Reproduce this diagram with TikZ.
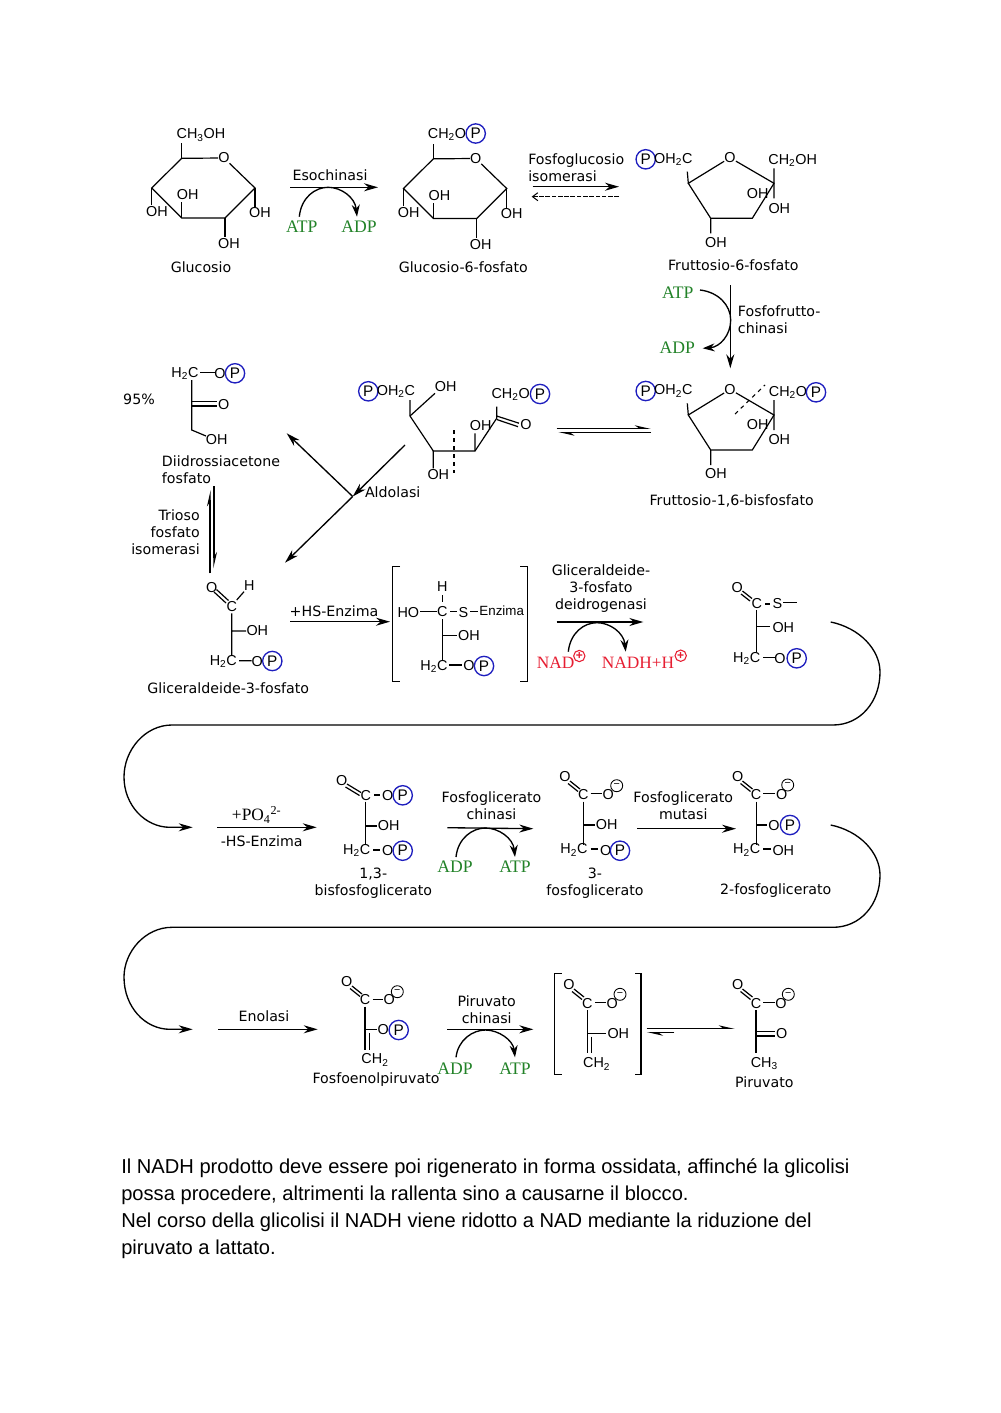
\documentclass[tikz,border=0pt]{standalone}
\usepackage{fontspec}
\usetikzlibrary{arrows.meta}
\newfontfamily\chemfont{Liberation Sans}
\newfontfamily\lblfont{DejaVu Sans}
\newfontfamily\serfont{Liberation Serif}
\definecolor{cofgreen}{RGB}{34,130,40}
\definecolor{cofred}{RGB}{230,30,50}
\definecolor{pblue}{RGB}{30,30,190}
\tikzset{
 atm/.style={inner sep=0pt,font=\chemfont\fontsize{10.8}{12}\selectfont},
 smallatm/.style={inner sep=0pt,font=\chemfont\fontsize{10}{10}\selectfont},
 lbl/.style={inner sep=0pt,align=center,font=\lblfont\fontsize{10.65}{12.75}\selectfont},
 lbll/.style={lbl,align=left,anchor=west},
 lblr/.style={lbl,align=right,anchor=east},
 grn/.style={inner sep=0pt,text=cofgreen,font=\serfont\fontsize{13.2}{14}\selectfont},
 redt/.style={inner sep=0pt,text=cofred,font=\serfont\fontsize{13}{14}\selectfont},
 pcirc/.style={circle,draw=pblue,line width=1pt,minimum size=14.5pt,inner sep=0pt,font=\chemfont\fontsize{11.5}{12}\selectfont},
 mcirc/.style={circle,draw=black,line width=0.65pt,minimum size=9pt,inner sep=0pt,font=\chemfont\fontsize{8}{8}\selectfont},
 rcirc/.style={circle,draw=cofred,line width=0.8pt,minimum size=8.5pt,inner sep=0pt,text=cofred,font=\chemfont\bfseries\fontsize{9}{9}\selectfont},
 bond/.style={line width=0.9pt,black},
 arr/.style={line width=1pt,-{Stealth[length=10.5pt,width=6pt]}},
 cof/.style={line width=1pt,-{Stealth[length=9pt,width=6pt]}},
 harpA/.style={line width=1pt,-{Stealth[harpoon,length=10pt,width=4.5pt]}},
 dasharr/.style={line width=0.75pt,dash pattern=on 3.5pt off 1.2pt,-{Straight Barb[length=4pt,width=6pt]}},
 brk/.style={line width=1pt},
 cutl/.style={line width=0.8pt,dash pattern=on 3pt off 3pt},
}
\newcommand\rxn[4]{\coordinate (#1a) at (#2); \coordinate (#1b) at (#3); \draw[#4] (#1a) -- (#1b);}
\newcommand\cofac[5]{%
 \pgfmathsetmacro\cofM{(#2+#3)/2}%
 \coordinate (#1s) at (#2,#5); \coordinate (#1t) at (\cofM,#4); \coordinate (#1e) at (#3,#5);
 \draw[cof] (#1s) .. controls (#2+2,#4+10) and (\cofM-13,#4) .. (#1t) .. controls (\cofM+13,#4) and (#3-2,#4+10) .. (#1e);}
% pyranose ring
\newcommand\pyranring{%
 \node[atm] (ro) at (224,158) {O};
 \draw[bond] (ro) -- (181.7,158.3) -- (151.7,188) -- (181.7,218) -- (225,218) -- (255,188) -- (ro);
 \draw[bond] (181.7,158.3) -- (181.7,143) (151.7,188) -- (151.7,205) (181.7,218) -- (181.7,202) (255,188) -- (255,207) (225,218) -- (225,237);
 \node[atm] (oh1) at (157,212) {OH};
 \node[atm] (oh2) at (187.7,195) {OH};
 \node[atm] (oh3) at (260,213) {OH};
 \node[atm] (oh4) at (229,244) {OH};
}
% furanose ring
\newcommand\furanring{%
 \node[atm] (ro) at (730,157.7) {O};
 \draw[bond] (ro) -- (688.3,183.3) -- (710.7,218.3) -- (752.3,218.3) -- (774,183.3) -- (ro);
 \draw[bond] (688.3,183.3) -- (687.3,171.7) (774,168.3) -- (774,198.3) (710.7,218.3) -- (710.7,233.3);
 \node[atm] (oh1) at (757.7,193.3) {OH};
 \node[atm] (oh2) at (779.3,208.3) {OH};
 \node[atm] (oh3) at (716,242.3) {OH};
 \node[pcirc] (pl) at (645.7,159.3) {P};
 \node[atm] (ohc) at (673.3,159.3) {OH\textsubscript{2}C};
}
\begin{document}
\begin{tikzpicture}[x=0.75pt,y=-0.75pt]
\useasboundingbox (0,0) rectangle (1000,1413);
% ---------- Row 1
\begin{scope}[name prefix=glc-]
 \pyranring
 \node[atm] (top) at (201,135) {CH\textsubscript{3}OH};
 \node[lbl] (name) at (201,267) {Glucosio};
\end{scope}
\begin{scope}[shift={(251.7,0.5)},name prefix=g6p-]
 \pyranring
 \node[atm] (top) at (195.3,134) {CH\textsubscript{2}O};
 \node[pcirc] (p) at (224,133) {P};
 \node[lbl] (name) at (211.6,266.5) {Glucosio-6-fosfato};
\end{scope}
\node[lbl] (eso) at (330,175.7) {Esochinasi};
\rxn{e}{290,187.3}{378,187.3}{arr}
\cofac{ec}{299.3}{357}{187.3}{216.7}
\node[grn] (atp1) at (301.7,226.7) {ATP};
\node[grn] (adp1) at (359,226.7) {ADP};
\node[lbll] (fgi) at (528,168) {Fosfoglucosio\\isomerasi};
\rxn{f}{532.7,186.7}{619,186.7}{arr}
\rxn{fd}{619,196.7}{531.7,196.7}{dasharr}
\begin{scope}[name prefix=f6p-]
 \furanring
 \node[atm] (top) at (792.7,160.7) {CH\textsubscript{2}OH};
 \node[lbl] (name) at (733.3,265) {Fruttosio-6-fosfato};
\end{scope}
\rxn{k}{730.3,285}{730.3,368.3}{arr}
\node[lbll] (pfk) at (737.7,320) {Fosfofrutto-\\chinasi};
\node[grn] (atp2) at (677.7,292.7) {ATP};
\node[grn] (adp2) at (677.3,347.7) {ADP};
\coordinate (kc1) at (700,290); \coordinate (kc2) at (730.7,320); \coordinate (kc3) at (702.7,348.3);
\draw[cof] (kc1) .. controls (718,292) and (730.7,305) .. (kc2) .. controls (730.7,335) and (720,347) .. (kc3);
% ---------- Row 2: F-1,6-BP
\begin{scope}[shift={(0,231.7)},name prefix=fbp-]
 \furanring
 \node[atm] (top) at (788,160.6) {CH\textsubscript{2}O};
 \node[pcirc] (p) at (816,160.6) {P};
 \coordinate (c1) at (735,182.3); \coordinate (c2) at (765,153.3);
 \draw[cutl] (c1) -- (c2);
\end{scope}
\node[lbl] (fbpname) at (731.7,500.7) {Fruttosio-1,6-bisfosfato};
\rxn{eqa}{556.7,428.3}{651,428.3}{harpA}
\rxn{eqb}{651,432.7}{558.3,432.7}{harpA}
% open chain
\node[pcirc] (opP) at (368.3,391.3) {P};
\node[atm] (opc) at (396,391.3) {OH\textsubscript{2}C};
\node[atm] (opoh1) at (445.7,386.7) {OH};
\node[atm] (opoh2) at (438.3,475) {OH};
\node[atm] (opoh3) at (480.7,426) {OH};
\node[atm] (opch) at (510.7,394.3) {CH\textsubscript{2}O};
\node[pcirc] (opP2) at (540,394) {P};
\node[atm] (opo) at (526,425) {O};
\draw[bond] (410,400) -- (410,416) -- (433.3,451) -- (475,451) -- (496.7,418.3) -- (496.7,406.7);
\draw[bond] (410,416) -- (435,393.3) (433.3,451) -- (433.3,468.3) (475,451) -- (475,433.3);
\draw[bond] (496.7,416) -- (519,423.2) (496.7,419.5) -- (518,426.7);
\draw[cutl] (454,430) -- (454,473.3);
% aldolase arrows
\coordinate (al1) at (405,445); \coordinate (alj) at (352.7,496.5); \coordinate (alg) at (285,562.7); \coordinate (ald) at (286.7,433.3);
\draw[arr] (al1) -- (alj);
\draw[arr] (alj) -- (alg);
\draw[arr] (alj) -- (ald);
\node[lbl] (aldn) at (392.7,492.7) {Aldolasi};
% DHAP
\node[lbl] (pct) at (139,399) {95\%};
\node[atm] (dh2c) at (185,373.3) {H\textsubscript{2}C};
\node[atm] (do) at (220,373.3) {O};
\node[pcirc] (dp) at (235,373.3) {P};
\node[atm] (dco) at (223.7,404.3) {O};
\node[atm] (doh) at (216.7,439.3) {OH};
\draw[bond] (200,372.7) -- (215,372.7);
\draw[bond] (191.7,380) -- (191.7,430) -- (206,436);
\draw[bond] (191.7,401.7) -- (216.7,401.7) (191.7,405.9) -- (216.7,405.9);
\node[lbll] (dhn) at (161.7,469.5) {Diidrossiacetone\\fosfato};
\node[lblr] (tpi) at (200,532) {Trioso\\fosfato\\isomerasi};
\rxn{ti1}{214,486}{214,568.3}{harpA}
\rxn{ti2}{210,573.3}{210,490}{harpA}
% GAP
\node[atm] (go) at (211.7,587.3) {O};
\node[atm] (gc) at (231.7,606.7) {C};
\node[atm] (gh) at (249.3,585.7) {H};
\node[atm] (goh) at (257.3,631) {OH};
\node[atm] (gh2c) at (223.3,661.7) {H\textsubscript{2}C};
\node[atm] (go2) at (257.3,661.7) {O};
\node[pcirc] (gp) at (272.3,661) {P};
\draw[bond] (216.5,589.5) -- (228.5,600.5) (214,592) -- (226,603);
\draw[bond] (236.7,600) -- (244,591.7) (231.7,613.3) -- (231.7,655) (231.7,631) -- (246,631) (239,660.7) -- (251.7,660.7);
\node[lbl] (gapn) at (228.3,687.7) {Gliceraldeide-3-fosfato};
\node[lbl] (hse) at (334,610.7) {+HS-Enzima};
\rxn{hs}{290,621.7}{390,621.7}{arr}
% bracket 1
\draw[brk] (400,566.7) -- (392.7,566.7) -- (392.7,681.7) -- (400,681.7);
\draw[brk] (520,566.7) -- (527.3,566.7) -- (527.3,681.7) -- (520,681.7);
\node[atm] (ih) at (442.3,586.7) {H};
\node[atm] (ic) at (442.3,611.7) {C};
\node[atm] (iho) at (408.3,612.7) {HO};
\node[atm] (is) at (463.3,612.3) {S};
\node[smallatm] (ienz) at (501.7,611) {Enzima};
\node[atm] (ioh) at (469,636) {OH};
\node[atm] (ih2c) at (434,666.7) {H\textsubscript{2}C};
\node[atm] (io) at (469,666) {O};
\node[pcirc] (ip) at (484,666) {P};
\draw[bond] (442.7,595) -- (442.7,602.3) (420,611.7) -- (436.7,611.7) (450,611.7) -- (456.7,611.7) (470,611.7) -- (477.7,611.7);
\draw[bond] (442.7,619.3) -- (442.7,661) (442.7,635.7) -- (456.7,635.7) (449.3,665) -- (461.7,665);
\node[lbl] (gapdh) at (601,589) {Gliceraldeide-\\3-fosfato\\deidrogenasi};
\rxn{gd}{556.7,622}{643.3,622}{arr}
\cofac{gc}{568.3}{625.7}{622.7}{651.7}
\node[redt] (nad) at (555.7,662.3) {NAD};
\node[rcirc] (nadp) at (579.3,656) {+};
\node[redt] (nadh) at (638,662.3) {NADH+H};
\node[rcirc] (nadhp) at (680.7,655.7) {+};
% thioester
\node[atm] (to) at (737.3,587.3) {O};
\node[atm] (tc) at (756.7,604) {C};
\node[atm] (ts) at (777.3,604) {S};
\node[atm] (toh) at (783.3,627.3) {OH};
\node[atm] (th2c) at (746.7,658.3) {H\textsubscript{2}C};
\node[atm] (to2) at (780,658.3) {O};
\node[pcirc] (tp) at (796.7,658.3) {P};
\draw[bond] (742.5,591) -- (752,598.5) (741,594) -- (750,601);
\draw[bond] (765,604) -- (770,604) (783.3,602.7) -- (796.7,602.7) (756.7,610) -- (756.7,651.7) (756.7,626.7) -- (770,626.7) (763.3,657.3) -- (775,657.3);
% connector 1
\coordinate (w1s) at (830.7,622); \coordinate (w1a) at (880,672); \coordinate (w1b) at (833,725); \coordinate (w1c) at (172,725); \coordinate (w1d) at (124,777); \coordinate (w1e) at (192.7,827.3);
\draw[arr] (w1s) .. controls (860,628) and (880,650) .. (w1a) .. controls (880,702) and (860,725) .. (w1b) -- (w1c) .. controls (145,725) and (124,750) .. (w1d) .. controls (124,805) and (145,827.3) .. (170,827.3) -- (w1e);
% ---------- Row 3
\node[inner sep=0pt,font=\serfont\fontsize{13}{14}\selectfont] (po4) at (256.7,815) {+PO\textsubscript{4}\textsuperscript{2-}};
\rxn{po}{217.3,827.3}{316.7,827.3}{arr}
\node[lbl] (hse2) at (261.7,841) {-HS-Enzima};
% 1,3-BPG
\node[atm] (bo) at (341.7,780.7) {O};
\node[atm] (bc) at (365.7,796) {C};
\node[atm] (bo2) at (387.7,795.3) {O};
\node[pcirc] (bp) at (402.7,795.3) {P};
\node[atm] (boh) at (388.7,826) {OH};
\node[atm] (bh2c) at (356.7,850.7) {H\textsubscript{2}C};
\node[atm] (bo3) at (387.7,851) {O};
\node[pcirc] (bp2) at (402.7,850.7) {P};
\draw[bond] (347,784) -- (361,792.5) (345.5,787) -- (359.5,795.5);
\draw[bond] (374,795) -- (380,795) (365.7,801.7) -- (365.7,845) (365.7,826) -- (377.3,826) (373.3,850) -- (380,850);
\node[lbl] (bn) at (373.3,883.3) {1,3-\\bisfosfoglicerato};
\node[lbl] (pgk) at (491.5,805.5) {Fosfoglicerato\\chinasi};
\rxn{pk}{447.3,827.7}{533.3,828.7}{arr}
\cofac{pkc}{456}{515}{828}{857}
\node[grn] (adp3) at (455,866.7) {ADP};
\node[grn] (atp3) at (515,866.7) {ATP};
% 3PG
\node[atm] (po) at (565,776.7) {O};
\node[atm] (pc) at (583.3,795) {C};
\node[atm] (po2) at (608.3,794.3) {O};
\node[mcirc] (pm) at (616.7,785.7) {\textminus};
\node[atm] (poh) at (606.7,825) {OH};
\node[atm] (ph2c) at (574,850) {H\textsubscript{2}C};
\node[atm] (po3) at (605.7,850.7) {O};
\node[pcirc] (pp) at (620,850.7) {P};
\draw[bond] (570,781) -- (580,789) (568,783.5) -- (578,791.5);
\draw[bond] (590.7,793.3) -- (601.7,793.3) (583.3,801.7) -- (583.3,845) (583.3,825) -- (595,825) (590.7,849) -- (598.3,849);
\node[lbl] (pn) at (595,883) {3-\\fosfoglicerato};
\node[lbl] (pgm) at (683.3,806) {Fosfoglicerato\\mutasi};
\rxn{pm}{637.3,828.7}{736,828.7}{arr}
% 2PG
\node[atm] (qo) at (737.7,776.7) {O};
\node[atm] (qc) at (756,795) {C};
\node[atm] (qo2) at (781.7,794.3) {O};
\node[mcirc] (qm) at (787.7,785) {\textminus};
\node[atm] (qo3) at (774,825.7) {O};
\node[pcirc] (qp) at (790,825) {P};
\node[atm] (qh2c) at (746.7,850) {H\textsubscript{2}C};
\node[atm] (qoh) at (783.3,850.7) {OH};
\draw[bond] (742.5,781) -- (752.5,789) (740.5,783.5) -- (750.5,791.5);
\draw[bond] (763.3,793.3) -- (775,793.3) (756.7,801.7) -- (756.7,845) (756.7,825) -- (767,825) (763.3,849) -- (770.7,849);
\node[lbl] (qn) at (775.7,890.7) {2-fosfoglicerato};
% connector 2
\coordinate (w2s) at (830.7,825); \coordinate (w2a) at (880,875); \coordinate (w2b) at (833,927.3); \coordinate (w2c) at (172,927.3); \coordinate (w2d) at (124,977); \coordinate (w2e) at (192.7,1029.3);
\draw[arr] (w2s) .. controls (860,831) and (880,853) .. (w2a) .. controls (880,905) and (860,927.3) .. (w2b) -- (w2c) .. controls (145,927.3) and (124,952) .. (w2d) .. controls (124,1007) and (145,1029.3) .. (170,1029.3) -- (w2e);
% ---------- Row 4
\node[lbl] (eno) at (264,1016) {Enolasi};
\rxn{en}{218.3,1029.3}{317.7,1029.3}{arr}
% PEP
\node[atm] (eo) at (346.7,981.7) {O};
\node[atm] (ec) at (365,1000) {C};
\node[atm] (eo2) at (389.3,1000) {O};
\node[mcirc] (em) at (397.3,991.7) {\textminus};
\node[atm] (eo3) at (383.3,1030) {O};
\node[pcirc] (ep) at (398.7,1030) {P};
\node[atm] (ech2) at (375,1060) {CH\textsubscript{2}};
\draw[bond] (352,986) -- (362,994) (350,988.5) -- (360,996.5);
\draw[bond] (372.7,999.3) -- (383.3,999.3) (365,1006.7) -- (365,1050) (369.3,1033.3) -- (369.3,1050) (365,1029.3) -- (376.7,1029.3);
\node[lbl] (pepn) at (376,1080) {Fosfoenolpiruvato};
\node[lbl] (pyk) at (486.7,1010) {Piruvato\\chinasi};
\rxn{py}{447.3,1029.3}{533.3,1029.3}{arr}
\cofac{pyc}{456}{515}{1030}{1057.3}
\node[grn] (adp4) at (455,1068.3) {ADP};
\node[grn] (atp4) at (515,1068.3) {ATP};
% bracket 2
\draw[brk] (561.7,973.3) -- (554.3,973.3) -- (554.3,1074.3) -- (561.7,1074.3);
\draw[brk] (635,973.3) -- (641,973.3) -- (641,1074.3) -- (635,1074.3);
\node[atm] (vo) at (569,985) {O};
\node[atm] (vc) at (587.3,1003.3) {C};
\node[atm] (vo2) at (612.3,1003.3) {O};
\node[mcirc] (vm) at (620,994.3) {\textminus};
\node[atm] (voh) at (618.3,1034) {OH};
\node[atm] (vch2) at (596.7,1064) {CH\textsubscript{2}};
\draw[bond] (574,989) -- (584,997) (572,991.5) -- (582,999.5);
\draw[bond] (595,1002.7) -- (606,1002.7) (587.7,1010) -- (587.7,1053.3) (591.7,1036.7) -- (591.7,1053.3) (587.7,1033.3) -- (606,1033.3);
\rxn{vp}{646.7,1028.3}{735,1028.3}{harpA}
\rxn{vq}{674.3,1032.7}{646.7,1032.7}{harpA}
% pyruvate
\node[atm] (yo) at (737.7,985) {O};
\node[atm] (yc) at (756,1003.3) {C};
\node[atm] (yo2) at (781,1003.3) {O};
\node[mcirc] (ym) at (788.3,994.3) {\textminus};
\node[atm] (yo3) at (781.7,1034) {O};
\node[atm] (ych3) at (764.3,1063.3) {CH\textsubscript{3}};
\draw[bond] (742.5,989) -- (752.5,997) (740.5,991.5) -- (750.5,999.5);
\draw[bond] (763,1002.7) -- (775,1002.7) (756,1010) -- (756,1053.3) (756,1031.7) -- (775,1031.7) (756,1036) -- (775,1036);
\node[lbl] (yn) at (764.3,1081.7) {Piruvato};
% ---------- Paragraph
\node[anchor=north west,inner sep=0pt,align=left,font=\chemfont\fontsize{15.1}{20.25}\selectfont] (para) at (121,1158.5) {Il NADH prodotto deve essere poi rigenerato in forma ossidata, affinché la glicolisi\\possa procedere, altrimenti la rallenta sino a causarne il blocco.\\Nel corso della glicolisi il NADH viene ridotto a NAD mediante la riduzione del\\piruvato a lattato.};
\end{tikzpicture}
\end{document}
